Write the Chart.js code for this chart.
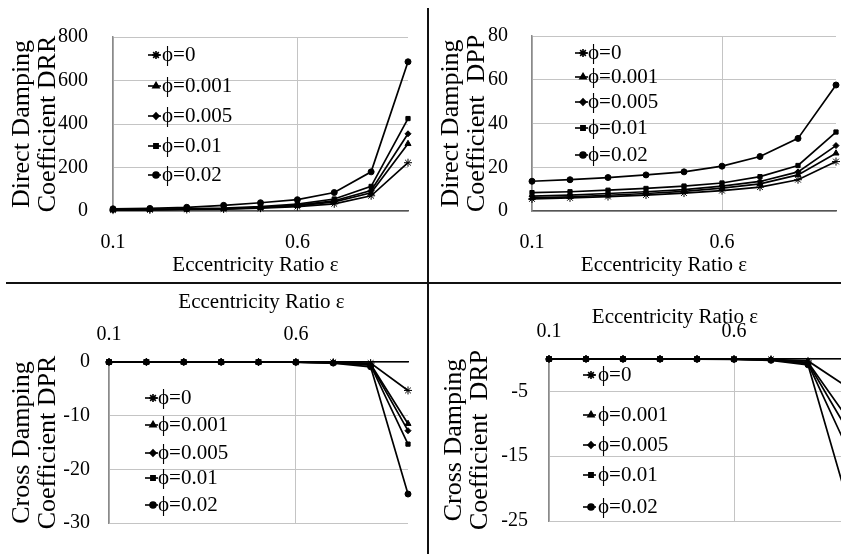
<!DOCTYPE html>
<html lang="en">
<head>
  <meta charset="UTF-8">
  <script src="https://cdn.jsdelivr.net/npm/chart.js"></script>
  <style>
    html, body { margin: 0; padding: 0; background: #fff; }
    body { width: 841px; height: 554px; overflow: hidden; position: relative; }
    canvas { position: absolute; }
    .vline { position: absolute; left: 427px; top: 8px; width: 2px; height: 546px; background: #111; }
    .hline { position: absolute; left: 6px; top: 282px; width: 835px; height: 2px; background: #111; }
  </style>
</head>
<body>
  <canvas id="drr" style="left:0;top:0" width="420" height="280"></canvas>
  <canvas id="dpp" style="left:428px;top:0" width="413" height="280"></canvas>
  <canvas id="dpr" style="left:0;top:284px" width="420" height="270"></canvas>
  <canvas id="drp" style="left:428px;top:284px" width="430" height="270"></canvas>
  <div class="vline"></div>
  <div class="hline"></div>

  <script>
    // eccentricity ratio (x values) and legend labels
    const eps = [0.1, 0.2, 0.3, 0.4, 0.5, 0.6, 0.7, 0.8, 0.9];
    const phiLabels = ['ϕ=0', 'ϕ=0.001', 'ϕ=0.005', 'ϕ=0.01', 'ϕ=0.02'];
    const xTicks = [0.1, 0.6];

    // rows: phi = 0, 0.001, 0.005, 0.01, 0.02
    const DRR = [
      [4, 5, 7, 9, 13, 20, 33, 70, 222],
      [5, 6, 8, 10, 15, 24, 42, 84, 309],
      [5, 7, 9, 11, 17, 27, 47, 94, 355],
      [6, 8, 10, 13, 20, 32, 55, 113, 425],
      [10, 12, 17, 26, 38, 52, 85, 180, 686]
    ];
    const DPP = [
      [5.5, 6.0, 6.6, 7.3, 8.2, 9.3, 10.9, 14.3, 22.6],
      [6.0, 6.5, 7.2, 8.0, 9.0, 10.5, 12.4, 16.5, 26.4],
      [6.8, 7.3, 8.0, 8.8, 9.8, 11.4, 13.5, 17.9, 29.9],
      [8.4, 8.8, 9.5, 10.3, 11.4, 12.8, 15.7, 20.8, 36.1],
      [13.6, 14.3, 15.3, 16.5, 17.9, 20.5, 24.9, 33.2, 57.6]
    ];
    const DPR = [
      [0, 0, 0, 0, 0, -0.01, -0.05, -0.2, -5.3],
      [0, 0, 0, 0, -0.01, -0.02, -0.1, -0.4, -11.5],
      [0, 0, 0, 0, -0.01, -0.02, -0.1, -0.5, -12.8],
      [0, 0, 0, -0.01, -0.01, -0.03, -0.15, -0.6, -15.3],
      [0, 0, -0.01, -0.01, -0.02, -0.05, -0.2, -0.9, -24.6]
    ];
    const DRP = [
      [0, 0, 0, 0, 0, -0.01, -0.05, -0.3, -4.1],
      [0, 0, 0, 0, -0.01, -0.02, -0.1, -0.5, -8.6],
      [0, 0, 0, 0, -0.01, -0.03, -0.12, -0.6, -10.3],
      [0, 0, 0, -0.01, -0.02, -0.04, -0.15, -0.7, -13.0],
      [0, 0, -0.01, -0.01, -0.02, -0.05, -0.2, -0.9, -20.6]
    ];
    const drrTicks = [0, 200, 400, 600, 800];
    const dppTicks = [0, 20, 40, 60, 80];
    const dprTicks = [-30, -20, -10, 0];
    const drpTicks = [-25, -15, -5, 0];

    const FONT = "'Liberation Serif', 'Times New Roman', serif";
    const markers = [
      { style: 'star', r: 4 },
      { style: 'triangle', r: 3.5 },
      { style: 'rectRot', r: 3 },
      { style: 'rect', r: 3 },
      { style: 'circle', r: 3 }
    ];

    // draws the in-plot legend and the x axis title
    const decor = {
      id: 'decor',
      afterDraw(chart, args, opts) {
        const ctx = chart.ctx, a = chart.chartArea;
        ctx.save();
        ctx.fillStyle = '#000';
        ctx.strokeStyle = '#000';
        ctx.textBaseline = 'middle';
        ctx.font = '21px ' + FONT;
        ctx.textAlign = 'center';
        ctx.fillText('Eccentricity Ratio ε', (a.left + a.right) / 2 + opts.titleDx, opts.titleY);

        ctx.textAlign = 'left';
        ctx.font = '21px ' + FONT;
        chart.data.datasets.forEach((ds, i) => {
          const y = opts.rows[i], x = opts.legendX;
          ctx.lineWidth = 1.6;
          ctx.beginPath();
          ctx.moveTo(x, y);
          ctx.lineTo(x + 13, y);
          ctx.stroke();
          Chart.helpers.drawPoint(ctx, { pointStyle: ds.pointStyle, radius: ds.pointRadius, borderWidth: 1, rotation: 0 }, x + 8, y);
          ctx.fillText(ds.label, opts.textX, y);
        });
        ctx.restore();
      }
    };

    function panel(id, p) {
      const datasets = p.values.map((row, i) => ({
        label: phiLabels[i],
        data: eps.map((x, j) => ({ x: x, y: row[j] })),
        borderColor: '#000',
        backgroundColor: '#000',
        borderWidth: 1.7,
        pointStyle: markers[i].style,
        pointRadius: markers[i].r,
        pointBorderWidth: 1,
        tension: 0,
        clip: false
      }));

      new Chart(document.getElementById(id), {
        type: 'line',
        data: { datasets },
        plugins: [decor],
        options: {
          responsive: false,
          animation: false,
          layout: { padding: p.pad },
          plugins: {
            legend: { display: false },
            tooltip: { enabled: false },
            decor: p.decor
          },
          scales: {
            x: {
              type: 'linear',
              position: p.xPos,
              min: 0.1,
              max: 0.9,
              afterBuildTicks: s => { s.ticks = xTicks.map(v => ({ value: v })); },
              afterFit: s => { s.height = p.xHeight; },
              ticks: {
                font: { family: FONT, size: 20 },
                color: '#000',
                padding: p.xPad,
                maxRotation: 0,
                autoSkip: false,
                callback: v => v.toFixed(1)
              },
              grid: { color: '#c4c4c4', drawTicks: false },
              border: { color: p.xBorder, width: 1.5 }
            },
            y: {
              min: p.ticks[0],
              max: p.ticks[p.ticks.length - 1],
              afterBuildTicks: s => { s.ticks = p.ticks.map(v => ({ value: v })); },
              afterFit: s => { s.width = p.yWidth; },
              ticks: {
                font: { family: FONT, size: 20 },
                color: '#000',
                padding: p.yPad,
                callback: p.yLabel || (v => v)
              },
              grid: { color: '#c4c4c4', drawTicks: false },
              border: { color: '#8a8a8a', width: 1.5 },
              title: {
                display: true,
                text: p.yTitle,
                color: '#000',
                font: { family: FONT, size: 26, lineHeight: 0.97 },
                padding: { top: p.yTitlePad, bottom: 0 }
              }
            }
          }
        }
      });
    }

    panel('drr', {
      values: DRR, ticks: drrTicks,
      yTitle: ['Direct Damping', 'Coefficient DRR'],
      pad: { left: 0, top: 27, right: 12, bottom: 0 },
      xPos: 'bottom', xHeight: 69, xPad: 20, xBorder: '#555',
      yWidth: 113, yPad: 25, yTitlePad: 10,
      decor: { titleY: 265, titleDx: -5, legendX: 148, textX: 162, rows: [55, 86, 116, 146, 175] }
    });

    panel('dpp', {
      values: DPP, ticks: dppTicks,
      yTitle: ['Direct Damping', 'Coefficient  DPP'],
      pad: { left: 0, top: 28, right: 3, bottom: 0 },
      xPos: 'bottom', xHeight: 69, xPad: 20, xBorder: '#555',
      yWidth: 104, yPad: 24, yTitlePad: 11,
      decor: { titleY: 265, titleDx: -20, legendX: 147, textX: 160, rows: [53, 77, 102, 128, 155] }
    });

    panel('dpr', {
      values: DPR, ticks: dprTicks,
      yTitle: ['Cross Damping', 'Coefficient DPR'],
      pad: { left: 0, top: 0, right: 12, bottom: 22 },
      xPos: 'top', xHeight: 78, xPad: 15, xBorder: '#000',
      yWidth: 109, yPad: 19, yTitlePad: 10,
      decor: { titleY: 18, titleDx: 3, legendX: 145, textX: 158, rows: [114, 141, 169, 194, 221] }
    });

    panel('drp', {
      values: DRP, ticks: drpTicks,
      yTitle: ['Cross Damping', 'Coefficient  DRP'],
      pad: { left: 0, top: 0, right: 13, bottom: 21 },
      xPos: 'top', xHeight: 75, xPad: 15, xBorder: '#000',
      yWidth: 121, yPad: 21, yTitlePad: 14,
      yLabel: v => (v === 0 ? '' : v),
      decor: { titleY: 33, titleDx: -22, legendX: 155, textX: 170, rows: [91, 131, 161, 191, 223] }
    });
  </script>
</body>
</html>
